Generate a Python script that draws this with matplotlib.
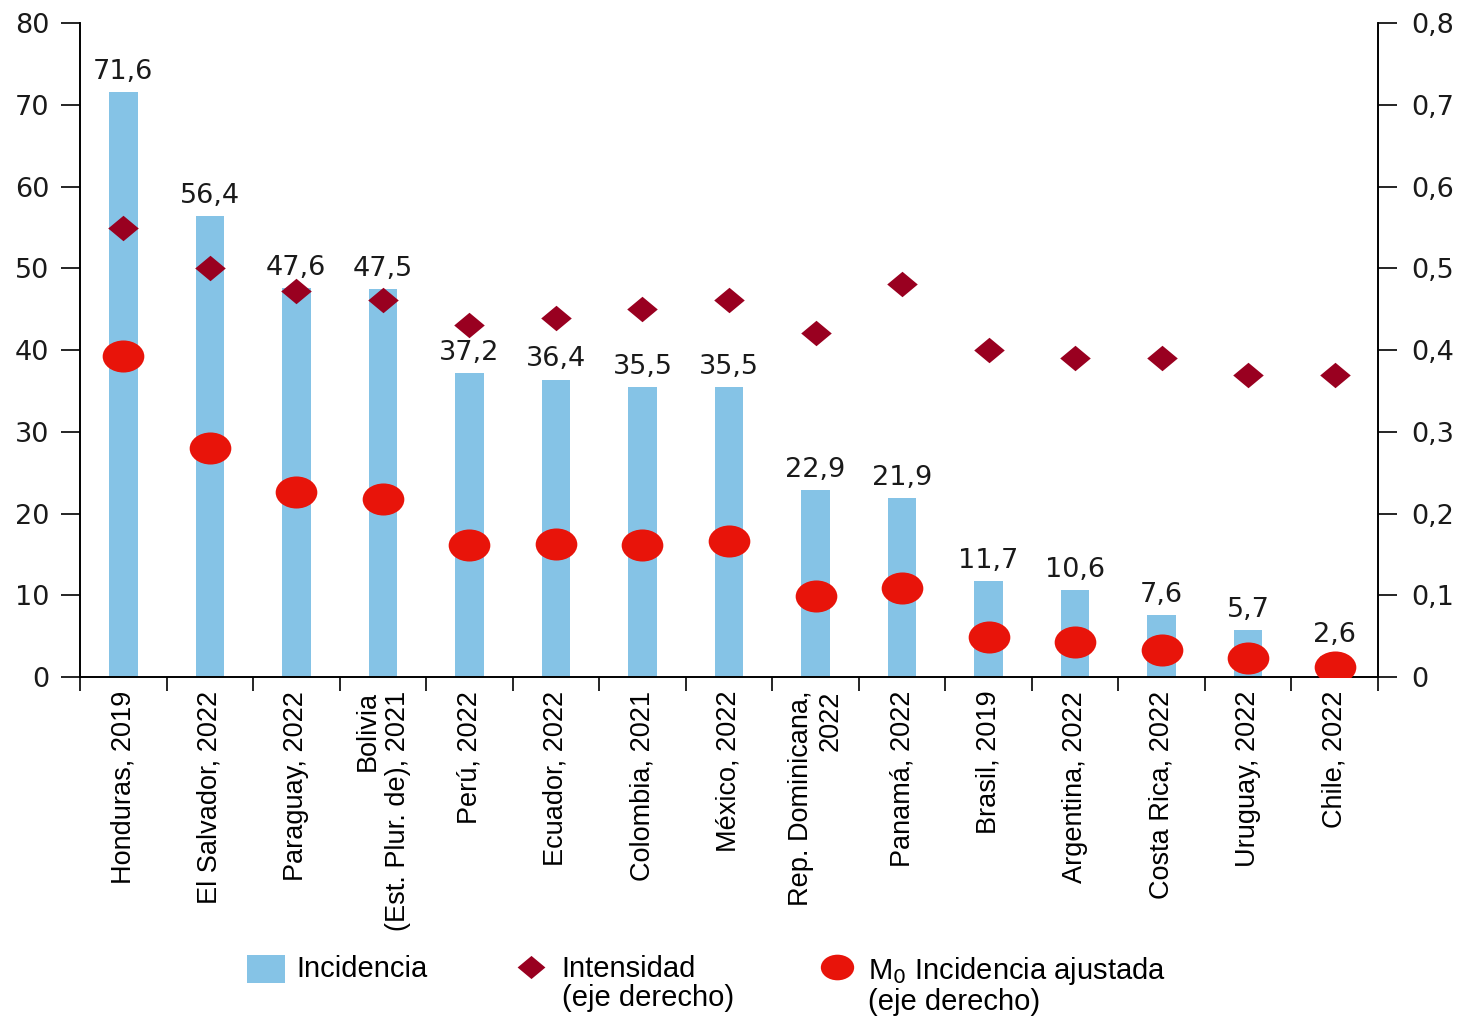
import numpy as np
import matplotlib
matplotlib.use("Agg")
import matplotlib.pyplot as plt
from matplotlib.path import Path
from matplotlib.lines import Line2D
from matplotlib.patches import Patch

# Data
paises = ["Honduras, 2019", "El Salvador, 2022", "Paraguay, 2022",
          "Bolivia\n(Est. Plur. de), 2021", "Perú, 2022", "Ecuador, 2022",
          "Colombia, 2021", "México, 2022", "Rep. Dominicana,\n2022",
          "Panamá, 2022", "Brasil, 2019", "Argentina, 2022", "Costa Rica, 2022",
          "Uruguay, 2022", "Chile, 2022"]
incidencia = [71.6, 56.4, 47.6, 47.5, 37.2, 36.4, 35.5, 35.5, 22.9, 21.9,
              11.7, 10.6, 7.6, 5.7, 2.6]
intensidad = [0.55, 0.50, 0.472, 0.461, 0.431, 0.44, 0.451, 0.461, 0.421,
              0.481, 0.40, 0.39, 0.39, 0.37, 0.37]
m0_ajustada = [0.393, 0.28, 0.226, 0.218, 0.161, 0.163, 0.161, 0.166, 0.099,
               0.109, 0.049, 0.043, 0.033, 0.023, 0.012]

BLUE = "#85c3e6"
DARK_RED = "#990020"
RED = "#e8140a"
NARROW = ["Liberation Sans", "DejaVu Sans"]
WIDE = ["DejaVu Sans"]

# stretched markers (the original is wider than tall)
ellipse = Path.unit_circle().transformed(matplotlib.transforms.Affine2D().scale(1.3, 1.0))
diamond = Path([(-1.2, 0), (0, 1), (1.2, 0), (0, -1), (-1.2, 0)],
               [Path.MOVETO, Path.LINETO, Path.LINETO, Path.LINETO, Path.CLOSEPOLY])

fig = plt.figure(figsize=(14.6, 10.18), dpi=100)
ax = fig.add_axes([0.0548, 0.335, 0.8890, 0.642])
ax2 = ax.twinx()

x = np.arange(len(paises))
ax.bar(x, incidencia, width=0.33, color=BLUE, zorder=1)
for xi, v in zip(x, incidencia):
    ax.text(xi, v + 0.9, f"{v:.1f}".replace(".", ","), ha="center", va="bottom",
            fontsize=19.5, family=WIDE, color="#1a1a1a")

ax2.plot(x, intensidad, linestyle="none", marker=diamond, markersize=22,
         color=DARK_RED, markeredgewidth=0, zorder=3)
ax2.plot(x, m0_ajustada, linestyle="none", marker=ellipse, markersize=30,
         color=RED, markeredgewidth=0, zorder=3)

ax.set_xlim(-0.5, len(paises) - 0.5)
ax.set_ylim(0, 80)
ax2.set_ylim(0, 0.8)
ax.set_yticks(np.arange(0, 81, 10))
ax2.set_yticks(np.arange(0, 0.81, 0.1))
ax2.set_yticklabels(["0"] + [f"0,{i}" for i in range(1, 9)])

ax.set_xticks(x)
ax.set_xticklabels(paises, rotation=90, ha="center", va="top",
                   multialignment="right", fontsize=19.5, family=NARROW)
ax.set_xticks(np.arange(-0.5, len(paises)), minor=True)
ax.tick_params(axis="x", which="major", length=0, pad=10)
ax.tick_params(axis="x", which="minor", length=10, width=1.2, direction="out")
ax.tick_params(axis="y", length=14, width=1.2, labelsize=19.5, pad=8, labelcolor="#1a1a1a")
ax2.tick_params(axis="y", length=14, width=1.2, labelsize=19.5, pad=10, labelcolor="#1a1a1a")
for lab in ax.get_yticklabels() + ax2.get_yticklabels():
    lab.set_family(WIDE)

for a in (ax, ax2):
    a.spines["top"].set_visible(False)
    for s in ("left", "right", "bottom"):
        a.spines[s].set_linewidth(1.2)

handles = [
    Patch(facecolor=BLUE, edgecolor="none"),
    Line2D([], [], linestyle="none", marker=diamond, markersize=20,
           color=DARK_RED, markeredgewidth=0),
    Line2D([], [], linestyle="none", marker=ellipse, markersize=24,
           color=RED, markeredgewidth=0),
]
labels = ["Incidencia", "Intensidad\n(eje derecho)",
          "M$_0$ Incidencia ajustada\n(eje derecho)"]
leg = fig.legend(handles, labels, loc="upper left", bbox_to_anchor=(0.169, 0.062),
                 ncol=3, frameon=False, prop={"family": NARROW, "size": 21},
                 handlelength=1.3, handleheight=1.1, columnspacing=2.9,
                 handletextpad=0.4, borderpad=0, borderaxespad=0,
                 labelspacing=0.2)
# put the markers next to the first line of each label, columns top aligned
leg._legend_handle_box.align = "top"
for col in leg._legend_handle_box.get_children():
    for item in col.get_children():
        item.align = "top"
for t in leg.get_texts():
    t.set_linespacing(1.05)

fig.savefig("out.png", dpi=100)
